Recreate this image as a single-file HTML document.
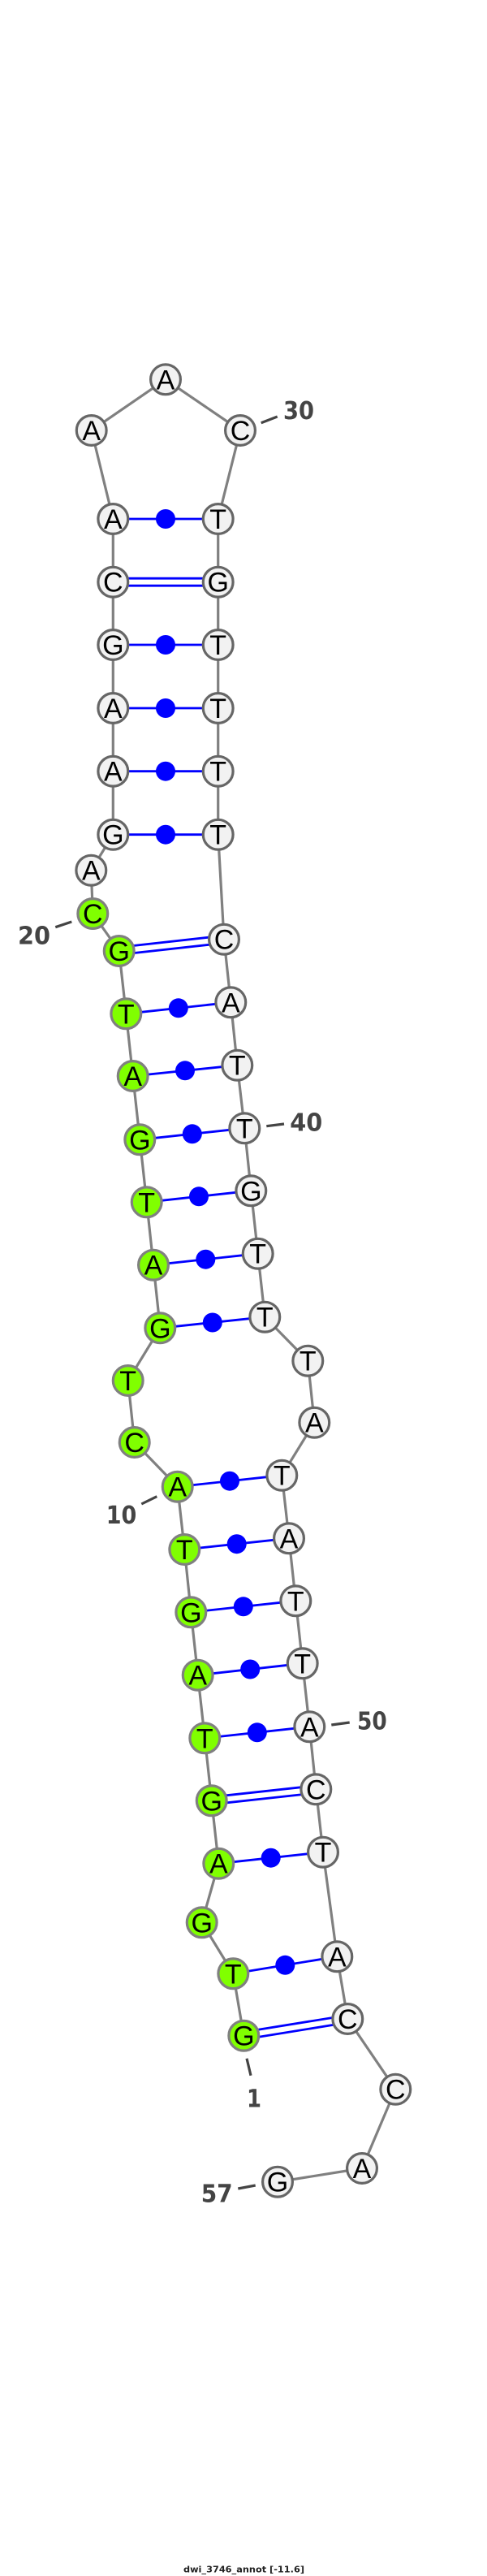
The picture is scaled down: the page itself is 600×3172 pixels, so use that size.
<!DOCTYPE html>
<html><head><meta charset="utf-8"><style>
html,body{margin:0;padding:0;background:#fff}
svg{display:block}
.b{stroke:#808080;stroke-width:3.2;fill:none}
.p{stroke:#0000ff;stroke-width:2.8;fill:none}
.d{fill:#0000ff}
.w{fill:#f2f2f2;stroke:#666;stroke-width:3.2}
.g{fill:#80ff00;stroke:#808080;stroke-width:3.2}
.n text{font-family:"Liberation Sans",sans-serif;font-size:34px;text-anchor:middle;fill:#000}
.t{stroke:#444;stroke-width:3.2;fill:none}
.l text{font-family:"DejaVu Sans",sans-serif;font-weight:bold;font-size:30px;fill:#444}
</style></head><body>
<svg xmlns="http://www.w3.org/2000/svg" width="600" height="3172" viewBox="0 0 600 3172">
<rect width="600" height="3172" fill="#fff"/>
<polyline class="b" points="300.3,2506.7 287.3,2430.3 248.7,2367.3 269.3,2294.7 260.7,2217.3 252.3,2140.3 243.7,2062.7 235.3,1985.3 227.3,1908 218.7,1830.7 165.7,1776 157.7,1700 197.3,1635.3 189,1557.7 180.7,1480.3 172.3,1403.3 163.7,1325 155.3,1248.3 146.7,1171 114.3,1125 112.3,1071.7 139.3,1027.7 139.3,949.7 139.3,872 139.3,794 139.3,716.7 139.3,639 112.7,530 204,467.3 296,530 268.7,639 268.7,716.7 268.7,794 268.7,872 268.7,949.7 268.7,1027.7 276,1156.7 284.3,1234.3 292.3,1311.7 301.3,1389.3 309.3,1466.3 317.7,1543.7 326.3,1621.7 379.3,1675.7 387.3,1751.7 347.3,1816.7 356,1894.3 364.3,1971.3 372.7,2048.3 381.3,2126.3 389.3,2203.3 398,2280.7 415.3,2409.3 428.3,2486 487.3,2572.7 446,2670 342,2686.7"/>
<g class="p">
<line x1="139.3" y1="639" x2="268.7" y2="639"/>
<line x1="139.3" y1="712.2" x2="268.7" y2="712.2"/><line x1="139.3" y1="721.2" x2="268.7" y2="721.2"/>
<line x1="139.3" y1="794" x2="268.7" y2="794"/>
<line x1="139.3" y1="872" x2="268.7" y2="872"/>
<line x1="139.3" y1="949.7" x2="268.7" y2="949.7"/>
<line x1="139.3" y1="1027.7" x2="268.7" y2="1027.7"/>
<line x1="146.2" y1="1166.5" x2="275.5" y2="1152.2"/><line x1="147.2" y1="1175.5" x2="276.5" y2="1161.2"/>
<line x1="155.3" y1="1248.3" x2="284.3" y2="1234.3"/>
<line x1="163.7" y1="1325" x2="292.3" y2="1311.7"/>
<line x1="172.3" y1="1403.3" x2="301.3" y2="1389.3"/>
<line x1="180.7" y1="1480.3" x2="309.3" y2="1466.3"/>
<line x1="189" y1="1557.7" x2="317.7" y2="1543.7"/>
<line x1="197.3" y1="1635.3" x2="326.3" y2="1621.7"/>
<line x1="218.7" y1="1830.7" x2="347.3" y2="1816.7"/>
<line x1="227.3" y1="1908" x2="356" y2="1894.3"/>
<line x1="235.3" y1="1985.3" x2="364.3" y2="1971.3"/>
<line x1="243.7" y1="2062.7" x2="372.7" y2="2048.3"/>
<line x1="252.3" y1="2140.3" x2="381.3" y2="2126.3"/>
<line x1="260.2" y1="2212.8" x2="388.8" y2="2198.8"/><line x1="261.2" y1="2221.8" x2="389.8" y2="2207.8"/>
<line x1="269.3" y1="2294.7" x2="398" y2="2280.7"/>
<line x1="287.3" y1="2430.3" x2="415.3" y2="2409.3"/>
<line x1="299.6" y1="2502.3" x2="427.6" y2="2481.6"/><line x1="301" y1="2511.1" x2="429" y2="2490.4"/>
</g>
<g class="d">
<circle cx="204" cy="639" r="12"/><circle cx="204" cy="794" r="12"/><circle cx="204" cy="872" r="12"/><circle cx="204" cy="949.7" r="12"/><circle cx="204" cy="1027.7" r="12"/>
<circle cx="219.8" cy="1241.3" r="12"/><circle cx="228" cy="1318.3" r="12"/><circle cx="236.8" cy="1396.3" r="12"/><circle cx="245" cy="1473.3" r="12"/><circle cx="253.3" cy="1550.7" r="12"/><circle cx="261.8" cy="1628.5" r="12"/>
<circle cx="283" cy="1823.7" r="12"/><circle cx="291.7" cy="1901.2" r="12"/><circle cx="299.8" cy="1978.3" r="12"/><circle cx="308.2" cy="2055.5" r="12"/><circle cx="316.8" cy="2133.3" r="12"/><circle cx="333.7" cy="2287.7" r="12"/><circle cx="351.3" cy="2419.8" r="12"/>
</g>
<g class="n">
<circle class="g" cx="300.3" cy="2506.7" r="18.4"/><text x="300.3" y="2518.7">G</text>
<circle class="g" cx="287.3" cy="2430.3" r="18.4"/><text x="287.3" y="2442.3">T</text>
<circle class="g" cx="248.7" cy="2367.3" r="18.4"/><text x="248.7" y="2379.3">G</text>
<circle class="g" cx="269.3" cy="2294.7" r="18.4"/><text x="269.3" y="2306.7">A</text>
<circle class="g" cx="260.7" cy="2217.3" r="18.4"/><text x="260.7" y="2229.3">G</text>
<circle class="g" cx="252.3" cy="2140.3" r="18.4"/><text x="252.3" y="2152.3">T</text>
<circle class="g" cx="243.7" cy="2062.7" r="18.4"/><text x="243.7" y="2074.7">A</text>
<circle class="g" cx="235.3" cy="1985.3" r="18.4"/><text x="235.3" y="1997.3">G</text>
<circle class="g" cx="227.3" cy="1908" r="18.4"/><text x="227.3" y="1920">T</text>
<circle class="g" cx="218.7" cy="1830.7" r="18.4"/><text x="218.7" y="1842.7">A</text>
<circle class="g" cx="165.7" cy="1776" r="18.4"/><text x="165.7" y="1788">C</text>
<circle class="g" cx="157.7" cy="1700" r="18.4"/><text x="157.7" y="1712">T</text>
<circle class="g" cx="197.3" cy="1635.3" r="18.4"/><text x="197.3" y="1647.3">G</text>
<circle class="g" cx="189" cy="1557.7" r="18.4"/><text x="189" y="1569.7">A</text>
<circle class="g" cx="180.7" cy="1480.3" r="18.4"/><text x="180.7" y="1492.3">T</text>
<circle class="g" cx="172.3" cy="1403.3" r="18.4"/><text x="172.3" y="1415.3">G</text>
<circle class="g" cx="163.7" cy="1325" r="18.4"/><text x="163.7" y="1337">A</text>
<circle class="g" cx="155.3" cy="1248.3" r="18.4"/><text x="155.3" y="1260.3">T</text>
<circle class="g" cx="146.7" cy="1171" r="18.4"/><text x="146.7" y="1183">G</text>
<circle class="g" cx="114.3" cy="1125" r="18.4"/><text x="114.3" y="1137">C</text>
<circle class="w" cx="112.3" cy="1071.7" r="18.4"/><text x="112.3" y="1083.7">A</text>
<circle class="w" cx="139.3" cy="1027.7" r="18.4"/><text x="139.3" y="1039.7">G</text>
<circle class="w" cx="139.3" cy="949.7" r="18.4"/><text x="139.3" y="961.7">A</text>
<circle class="w" cx="139.3" cy="872" r="18.4"/><text x="139.3" y="884">A</text>
<circle class="w" cx="139.3" cy="794" r="18.4"/><text x="139.3" y="806">G</text>
<circle class="w" cx="139.3" cy="716.7" r="18.4"/><text x="139.3" y="728.7">C</text>
<circle class="w" cx="139.3" cy="639" r="18.4"/><text x="139.3" y="651">A</text>
<circle class="w" cx="112.7" cy="530" r="18.4"/><text x="112.7" y="542">A</text>
<circle class="w" cx="204" cy="467.3" r="18.4"/><text x="204" y="479.3">A</text>
<circle class="w" cx="296" cy="530" r="18.4"/><text x="296" y="542">C</text>
<circle class="w" cx="268.7" cy="639" r="18.4"/><text x="268.7" y="651">T</text>
<circle class="w" cx="268.7" cy="716.7" r="18.4"/><text x="268.7" y="728.7">G</text>
<circle class="w" cx="268.7" cy="794" r="18.4"/><text x="268.7" y="806">T</text>
<circle class="w" cx="268.7" cy="872" r="18.4"/><text x="268.7" y="884">T</text>
<circle class="w" cx="268.7" cy="949.7" r="18.4"/><text x="268.7" y="961.7">T</text>
<circle class="w" cx="268.7" cy="1027.7" r="18.4"/><text x="268.7" y="1039.7">T</text>
<circle class="w" cx="276" cy="1156.7" r="18.4"/><text x="276" y="1168.7">C</text>
<circle class="w" cx="284.3" cy="1234.3" r="18.4"/><text x="284.3" y="1246.3">A</text>
<circle class="w" cx="292.3" cy="1311.7" r="18.4"/><text x="292.3" y="1323.7">T</text>
<circle class="w" cx="301.3" cy="1389.3" r="18.4"/><text x="301.3" y="1401.3">T</text>
<circle class="w" cx="309.3" cy="1466.3" r="18.4"/><text x="309.3" y="1478.3">G</text>
<circle class="w" cx="317.7" cy="1543.7" r="18.4"/><text x="317.7" y="1555.7">T</text>
<circle class="w" cx="326.3" cy="1621.7" r="18.4"/><text x="326.3" y="1633.7">T</text>
<circle class="w" cx="379.3" cy="1675.7" r="18.4"/><text x="379.3" y="1687.7">T</text>
<circle class="w" cx="387.3" cy="1751.7" r="18.4"/><text x="387.3" y="1763.7">A</text>
<circle class="w" cx="347.3" cy="1816.7" r="18.4"/><text x="347.3" y="1828.7">T</text>
<circle class="w" cx="356" cy="1894.3" r="18.4"/><text x="356" y="1906.3">A</text>
<circle class="w" cx="364.3" cy="1971.3" r="18.4"/><text x="364.3" y="1983.3">T</text>
<circle class="w" cx="372.7" cy="2048.3" r="18.4"/><text x="372.7" y="2060.3">T</text>
<circle class="w" cx="381.3" cy="2126.3" r="18.4"/><text x="381.3" y="2138.3">A</text>
<circle class="w" cx="389.3" cy="2203.3" r="18.4"/><text x="389.3" y="2215.3">C</text>
<circle class="w" cx="398" cy="2280.7" r="18.4"/><text x="398" y="2292.7">T</text>
<circle class="w" cx="415.3" cy="2409.3" r="18.4"/><text x="415.3" y="2421.3">A</text>
<circle class="w" cx="428.3" cy="2486" r="18.4"/><text x="428.3" y="2498">C</text>
<circle class="w" cx="487.3" cy="2572.7" r="18.4"/><text x="487.3" y="2584.7">C</text>
<circle class="w" cx="446" cy="2670" r="18.4"/><text x="446" y="2682">A</text>
<circle class="w" cx="342" cy="2686.7" r="18.4"/><text x="342" y="2698.7">G</text>
</g>
<g class="t">
<line x1="321.7" y1="520.7" x2="341.7" y2="513"/>
<line x1="68.3" y1="1141.7" x2="88.3" y2="1135"/>
<line x1="328.3" y1="1386.7" x2="350" y2="1384"/>
<line x1="174.3" y1="1852" x2="193.3" y2="1842.7"/>
<line x1="408.3" y1="2124" x2="430.7" y2="2121"/>
<line x1="304" y1="2534.7" x2="309" y2="2555.7"/>
<line x1="293.3" y1="2695" x2="314.7" y2="2691"/>
</g>
<g class="l">
<text x="349" y="516" textLength="38" lengthAdjust="spacingAndGlyphs">30</text>
<text x="22" y="1162.7" textLength="40" lengthAdjust="spacingAndGlyphs">20</text>
<text x="357.3" y="1392.7" textLength="40" lengthAdjust="spacingAndGlyphs">40</text>
<text x="130.7" y="1876" textLength="37.6" lengthAdjust="spacingAndGlyphs">10</text>
<text x="440" y="2129.3" textLength="36.7" lengthAdjust="spacingAndGlyphs">50</text>
<text x="304" y="2594.7" textLength="18" lengthAdjust="spacingAndGlyphs">1</text>
<text x="247.7" y="2711.7" textLength="39" lengthAdjust="spacingAndGlyphs">57</text>
</g>
<text x="226" y="3167.5" font-family="'DejaVu Sans',sans-serif" font-weight="bold" font-size="11" fill="#222" textLength="149" lengthAdjust="spacingAndGlyphs">dwi_3746_annot [-11.6]</text>
</svg>
</body></html>
